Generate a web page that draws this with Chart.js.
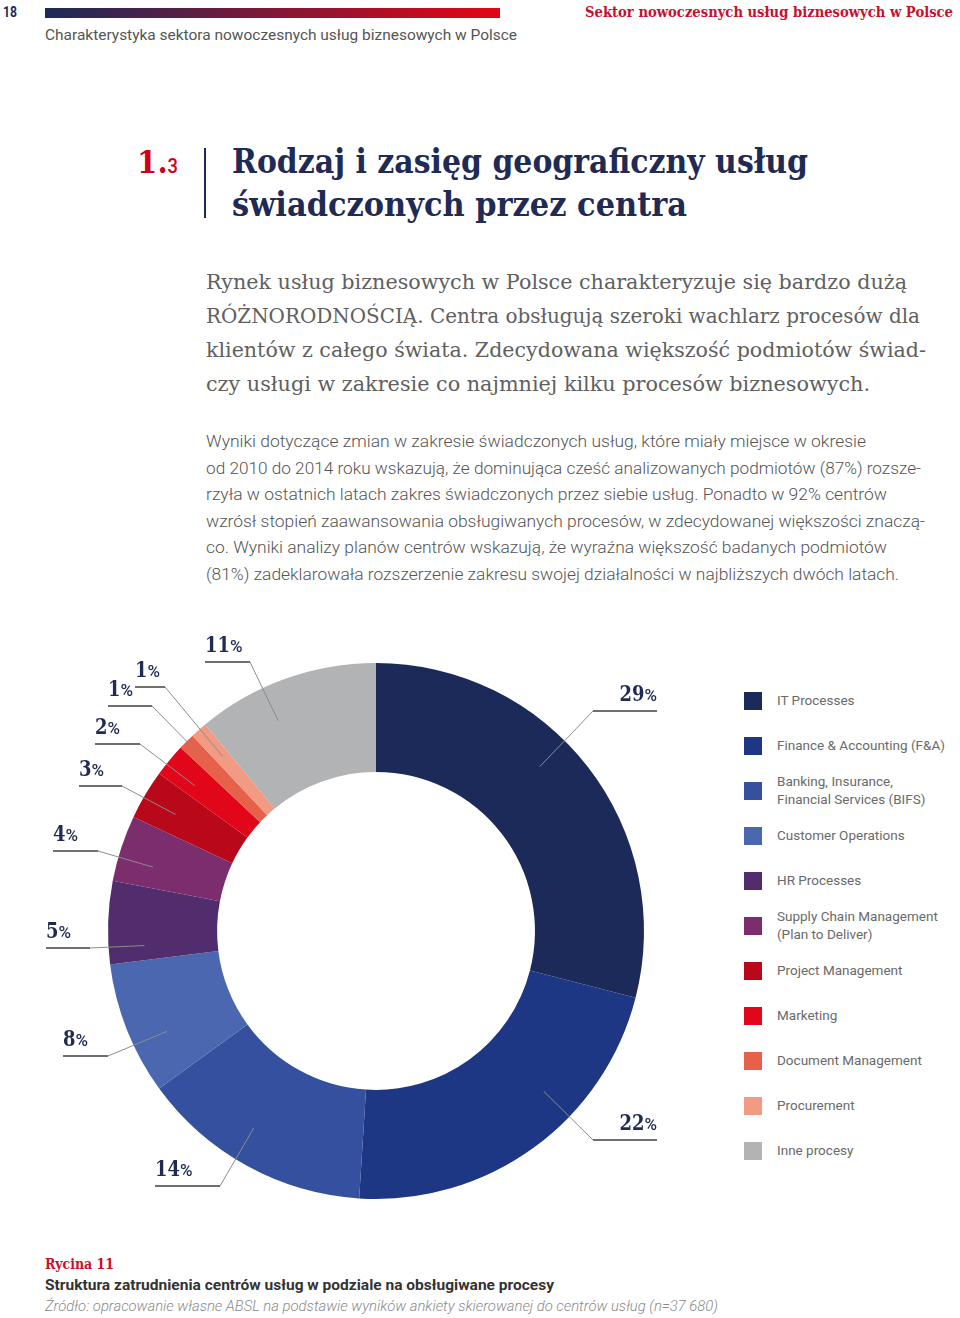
<!DOCTYPE html>
<html lang="pl">
<head>
<meta charset="utf-8">
<title>Struktura zatrudnienia centrów usług</title>
<script src="https://cdn.jsdelivr.net/npm/chart.js@4.4.0/dist/chart.umd.min.js"></script>
<style>
  body { margin: 0; width: 960px; height: 1318px; position: relative; background: #fff; overflow: hidden; font-family: Roboto, sans-serif; }
  .abs { position: absolute; white-space: nowrap; }
  .fit { display: inline-block; transform-origin: left center; white-space: nowrap; }
  .slab { font-family: "DejaVu Serif", serif; }
  #bar { left: 45px; top: 8px; width: 455px; height: 10px; background: linear-gradient(to right, #1c2a5a, #e30613); }
  #vline { left: 204px; top: 148px; width: 2px; height: 70px; background: #1c2a5a; }
  .lead div { height: 34px; line-height: 34px; }
  .body div { height: 26.5px; line-height: 26.5px; }
  .leg-sq { position: absolute; left: 744px; width: 18px; height: 18px; }
  .leg-tx { position: absolute; left: 777px; font-size: 13.5px; line-height: 18px; color: #6a6a6a; white-space: nowrap; }
</style>
</head>
<body>

<div class="abs" style="left:3px;top:2px;font:700 14px Roboto;color:#1c2a5a;line-height:20px"><span class="fit" data-w="14">18</span></div>
<div class="abs" id="bar"></div>
<div class="abs slab" style="left:585px;top:2px;font-weight:700;font-size:15px;color:#c8102e;line-height:20px"><span class="fit" data-w="368">Sektor nowoczesnych usług biznesowych w Polsce</span></div>
<div class="abs" style="left:45px;top:25px;font:400 15px Roboto;color:#555;line-height:20px"><span class="fit" data-w="472">Charakterystyka sektora nowoczesnych usług biznesowych w Polsce</span></div>

<div class="abs" style="left:137px;top:140px;line-height:44px;color:#d0021b"><span class="fit" data-w="41"><span class="slab" style="font-weight:700;font-size:32px">1.</span><span style="font:500 20px Roboto">3</span></span></div>
<div class="abs" id="vline"></div>
<div class="abs slab" style="left:232px;top:140px;font-weight:700;font-size:34px;line-height:43px;color:#1f2a55">
  <div><span class="fit" data-w="576">Rodzaj i zasięg geograficzny usług</span></div>
  <div><span class="fit" data-w="455">świadczonych przez centra</span></div>
</div>

<div class="abs slab lead" style="left:206px;top:265px;font-size:21px;color:#606060">
  <div><span class="fit" data-w="701">Rynek usług biznesowych w Polsce charakteryzuje się bardzo dużą</span></div>
  <div><span class="fit" data-w="714">RÓŻNORODNOŚCIĄ. Centra obsługują szeroki wachlarz procesów dla</span></div>
  <div><span class="fit" data-w="720">klientów z całego świata. Zdecydowana większość podmiotów świad-</span></div>
  <div><span class="fit" data-w="664">czy usługi w zakresie co najmniej kilku procesów biznesowych.</span></div>
</div>

<div class="abs body" style="left:206px;top:429px;font:300 16.5px Roboto;color:#555">
  <div><span class="fit" data-w="660">Wyniki dotyczące zmian w zakresie świadczonych usług, które miały miejsce w okresie</span></div>
  <div><span class="fit" data-w="715">od 2010 do 2014 roku wskazują, że dominująca cześć analizowanych podmiotów (87%) rozsze-</span></div>
  <div><span class="fit" data-w="681">rzyła w ostatnich latach zakres świadczonych przez siebie usług. Ponadto w 92% centrów</span></div>
  <div><span class="fit" data-w="719">wzrósł stopień zaawansowania obsługiwanych procesów, w zdecydowanej większości znaczą-</span></div>
  <div><span class="fit" data-w="681">co. Wyniki analizy planów centrów wskazują, że wyraźna większość badanych podmiotów</span></div>
  <div><span class="fit" data-w="693">(81%) zadeklarowała rozszerzenie zakresu swojej działalności w najbliższych dwóch latach.</span></div>
</div>

<canvas id="donut" width="730" height="640" style="position:absolute;left:0;top:600px"></canvas>
<div id="legend"></div>

<div class="abs slab" style="left:45px;top:1254px;font-weight:700;font-size:15px;color:#c8102e;line-height:20px"><span class="fit" data-w="69">Rycina 11</span></div>
<div class="abs" style="left:45px;top:1275px;font:700 15px Roboto;color:#333;line-height:20px"><span class="fit" data-w="509">Struktura zatrudnienia centrów usług w podziale na obsługiwane procesy</span></div>
<div class="abs" style="left:45px;top:1296px;font:italic 300 15px Roboto;color:#8a8a8a;line-height:20px"><span class="fit" data-w="673">Źródło: opracowanie własne ABSL na podstawie wyników ankiety skierowanej do centrów usług (n=37 680)</span></div>

<script>
// processes, share of employment (%)
const processes = [
    ['IT Processes'],
    ['Finance & Accounting (F&A)'],
    ['Banking, Insurance,', 'Financial Services (BIFS)'],
    ['Customer Operations'],
    ['HR Processes'],
    ['Supply Chain Management', '(Plan to Deliver)'],
    ['Project Management'],
    ['Marketing'],
    ['Document Management'],
    ['Procurement'],
    ['Inne procesy']
];
const shares = [29, 22, 14, 8, 5, 4, 3, 2, 1, 1, 11];
const colors = ['#1c2a5a', '#1d3784', '#34509e', '#4a67b0', '#512d6d', '#7b2d6e',
    '#b8081a', '#e2061b', '#e6604a', '#f29a84', '#b2b3b4'];

// callout layout (canvas px): end of the line, its y, the elbow x,
// and where along the slice (0..1 of its angle) the leader line starts
const calloutPos = [
    { x: 657, y: 111, elbow: 593, at: 0.43, right: true },
    { x: 657, y: 540, elbow: 593, at: 0.37, right: true },
    { x: 155, y: 586, elbow: 220, at: 0.56 },
    { x: 63, y: 456, elbow: 108, at: 0.36 },
    { x: 46, y: 348, elbow: 90, at: 0.2 },
    { x: 53, y: 251, elbow: 98, at: 0.36 },
    { x: 79, y: 186, elbow: 122, at: 0.46 },
    { x: 95, y: 144, elbow: 140, at: 0.38 },
    { x: 108, y: 106, elbow: 152, at: 0.5 },
    { x: 135, y: 87, elbow: 165, at: 0.53 },
    { x: 205, y: 62, elbow: 250, at: 0.37 }
];

// legend
const legendBox = document.getElementById('legend');
processes.forEach((lines, i) => {
    const cy = 701 + 45 * i;
    const sq = document.createElement('div');
    sq.className = 'leg-sq';
    sq.style.top = (cy - 9) + 'px';
    sq.style.background = colors[i];
    legendBox.appendChild(sq);
    const tx = document.createElement('div');
    tx.className = 'leg-tx';
    tx.style.top = (cy - lines.length * 9 - 1) + 'px';
    tx.innerHTML = lines.join('<br>').replace(/&(?!amp;)/g, '&amp;');
    legendBox.appendChild(tx);
});

// callout lines + percent labels
const calloutPlugin = {
    id: 'callouts',
    afterDatasetsDraw(chart) {
        const ctx = chart.ctx;
        const arcs = chart.getDatasetMeta(0).data;
        arcs.forEach((arc, i) => {
            const p = calloutPos[i];
            const ang = arc.startAngle + (arc.endAngle - arc.startAngle) * p.at;
            const r = arc.innerRadius + (arc.outerRadius - arc.innerRadius) * 0.67;
            const ax = arc.x + Math.cos(ang) * r;
            const ay = arc.y + Math.sin(ang) * r;
            ctx.save();
            ctx.strokeStyle = '#8c8c8c';
            ctx.lineWidth = 1;
            ctx.beginPath();
            ctx.moveTo(ax, ay);
            ctx.lineTo(p.elbow, p.y);
            ctx.stroke();
            ctx.strokeStyle = '#707070';
            ctx.lineWidth = 2;
            ctx.beginPath();
            ctx.moveTo(p.elbow, p.y);
            ctx.lineTo(p.x, p.y);
            ctx.stroke();

            const num = String(shares[i]);
            const sx = 0.78;
            ctx.font = 'bold 23px "DejaVu Serif"';
            const nw = ctx.measureText(num).width * sx;
            ctx.font = '500 17px Roboto';
            const pw = ctx.measureText('%').width;
            const tx = p.right ? p.x - nw - pw : p.x;
            const ty = p.y - 10;
            ctx.fillStyle = '#1f2a55';
            ctx.save();
            ctx.translate(tx, ty);
            ctx.scale(sx, 1);
            ctx.font = 'bold 23px "DejaVu Serif"';
            ctx.fillText(num, 0, 0);
            ctx.restore();
            ctx.font = '500 17px Roboto';
            ctx.fillText('%', tx + nw, ty);
            ctx.restore();
        });
    }
};

new Chart(document.getElementById('donut'), {
    type: 'doughnut',
    data: {
        labels: processes.map(l => l.join(' ')),
        datasets: [{
            data: shares,
            backgroundColor: colors,
            borderWidth: 0
        }]
    },
    options: {
        responsive: false,
        animation: false,
        cutout: '59.3%',
        layout: { padding: { left: 108, right: 86, top: 63, bottom: 41 } },
        plugins: {
            legend: { display: false },
            tooltip: { enabled: false }
        }
    },
    plugins: [calloutPlugin]
});

// squeeze/stretch text runs to the widths in the original layout
function fitText() {
    document.querySelectorAll('.fit').forEach(el => {
        el.style.transform = 'none';
        const w = el.getBoundingClientRect().width;
        el.style.transform = 'scaleX(' + (+el.dataset.w / w) + ')';
    });
}
fitText();
document.fonts.ready.then(fitText);
</script>
</body>
</html>
